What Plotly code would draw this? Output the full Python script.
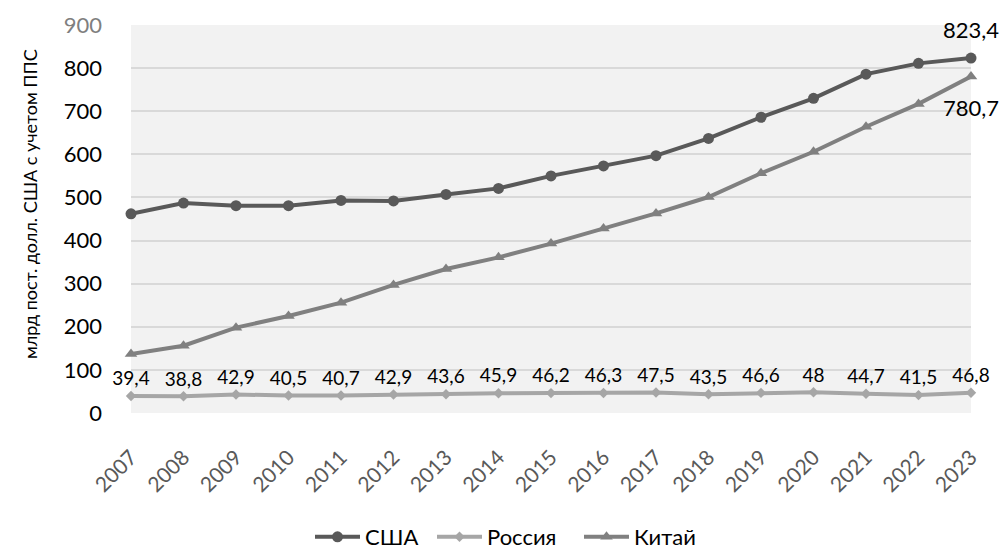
import plotly.graph_objects as go

years = list(range(2007, 2024))
usa = [462, 487, 481, 481, 493, 492, 507, 521, 550, 573, 597, 637, 686, 730, 786, 811, 823.4]
russia = [39.4, 38.8, 42.9, 40.5, 40.7, 42.9, 43.6, 45.9, 46.2, 46.3, 47.5, 43.5, 46.6, 48, 44.7, 41.5, 46.8]
china = [137, 156, 198, 225, 256, 297, 334, 361, 393, 428, 463, 501, 556, 606, 664, 717, 780.7]
y_ticks = [0, 100, 200, 300, 400, 500, 600, 700, 800, 900]
y_title = "млрд пост. долл. США с учетом ППС"

def fmt(v):
    return f"{v:g}".replace(".", ",")

FONT = "Lato, 'Open Sans', sans-serif"
W, H = 1002, 553
L, R, T, B = 131, 31, 25, 140
pw, ph = W - L - R, H - T - B

fig = go.Figure()
fig.add_trace(go.Scatter(
    x=years, y=usa, name="США", mode="lines+markers", legend="legend",
    line=dict(color="#595959", width=4),
    marker=dict(symbol="circle", size=11, color="#595959"),
    cliponaxis=False,
))
fig.add_trace(go.Scatter(
    x=years, y=russia, name="Россия", mode="lines+markers+text", legend="legend2",
    line=dict(color="#a6a6a6", width=4),
    marker=dict(symbol="diamond", size=8, color="#a6a6a6"),
    text=[fmt(v) for v in russia], textposition="top center",
    textfont=dict(size=19, color="#000000", family=FONT),
    cliponaxis=False,
))
fig.add_trace(go.Scatter(
    x=years, y=china, name="Китай", mode="lines+markers", legend="legend3",
    line=dict(color="#808080", width=4),
    marker=dict(symbol="triangle-up", size=11, color="#808080"),
    cliponaxis=False,
))

fig.add_annotation(x=years[-1], y=usa[-1], text=fmt(usa[-1]), showarrow=False,
                   xref="x", yref="y", yshift=29, font=dict(size=22, color="#000", family=FONT))
fig.add_annotation(x=years[-1], y=china[-1], text=fmt(china[-1]), showarrow=False,
                   xref="x", yref="y", yshift=-31, font=dict(size=22, color="#000", family=FONT))

fig.add_annotation(text=y_title, textangle=-90, showarrow=False,
                   xref="paper", yref="paper", x=(30 - L) / pw, y=(H - B - 204) / ph,
                   xanchor="center", yanchor="middle",
                   font=dict(size=18, color="#000", family=FONT))

ticktext = [str(t) for t in y_ticks]
ticktext[-1] = '<span style="color:#7f7f7f">900</span>'

def leg(px):
    return dict(orientation="h", x=(px - L) / pw, xanchor="left",
                y=(H - B - 537) / ph, yanchor="middle",
                font=dict(size=22, color="#000"), itemwidth=45, bgcolor="rgba(0,0,0,0)")

fig.update_layout(
    width=W, height=H,
    margin=dict(l=L, r=R, t=T, b=B, autoexpand=False),
    paper_bgcolor="white", plot_bgcolor="#f2f2f2",
    font=dict(family=FONT, size=22, color="#000"),
    showlegend=True,
    legend=leg(310), legend2=leg(432), legend3=leg(579),
    xaxis=dict(range=[years[0], years[-1]], tickmode="array", tickvals=years,
               ticktext=[str(y) for y in years], tickangle=-45, showgrid=False,
               zeroline=False, showline=False, ticks="", automargin=False,
               tickfont=dict(size=21, color="#595959"), ticklabelstandoff=27),
    yaxis=dict(range=[0, 900], tickmode="array", tickvals=y_ticks, ticktext=ticktext,
               showgrid=True, gridcolor="#d9d9d9", gridwidth=1.5, zeroline=False,
               showline=False, ticks="", tickfont=dict(size=22, color="#000"),
               ticklabelstandoff=28, automargin=False),
)

fig.write_html("out.html", config={"displayModeBar": False},
               post_script="document.body.style.margin='0';document.body.style.overflow='hidden';")
